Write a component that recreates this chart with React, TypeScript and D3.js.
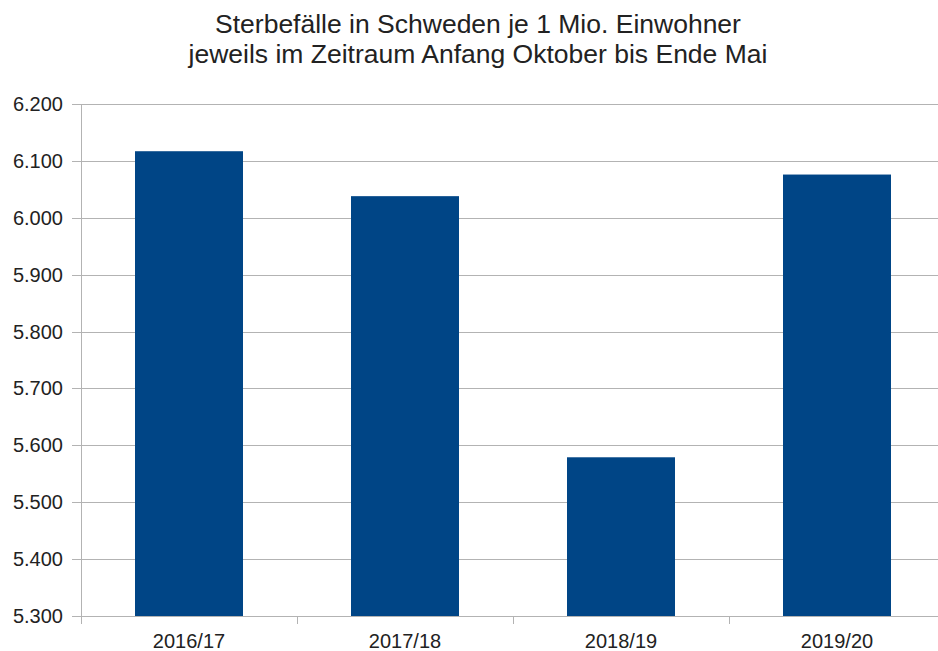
import React from "react";
import * as d3 from "d3";

const categories = ["2016/17", "2017/18", "2018/19", "2019/20"];
const values = [6117, 6038, 5579, 6076];
const yTicks = [5300, 5400, 5500, 5600, 5700, 5800, 5900, 6000, 6100, 6200];
const titleLines = [
  "Sterbefälle in Schweden je 1 Mio. Einwohner",
  "jeweils im Zeitraum Anfang Oktober bis Ende Mai",
];

const W = 938;
const H = 651;
const left = 81;
const right = 945;
const top = 104;
const bottom = 616;

const fmt = d3
  .formatLocale({ decimal: ",", thousands: ".", grouping: [3], currency: ["", "€"] })
  .format(",d");

export default function App() {
  const x = d3.scaleBand<string>().domain(categories).range([left, right]).paddingInner(0.5).paddingOuter(0.25);
  const y = d3.scaleLinear().domain([5300, 6200]).range([bottom, top]);
  const step = x.step();
  const boundaries = categories.map((c) => (x(c) as number) - step * 0.25);
  const font = "'Liberation Sans', Arial, sans-serif";
  const grid = "#b3b3b3";
  const text = "#222";

  return (
    <svg
      width={W}
      height={H}
      style={{ position: "absolute", left: 0, top: 0, background: "#fff" }}
      fontFamily={font}
    >
      <rect x={0} y={0} width={W} height={H} fill="#fff" />
      {titleLines.map((t, i) => (
        <text key={i} x={478} y={33 + i * 30} textAnchor="middle" fontSize={26.5} fill={text}>
          {t}
        </text>
      ))}
      {yTicks.map((v) => (
        <g key={v}>
          <line x1={72} x2={right} y1={Math.round(y(v)) + 0.5} y2={Math.round(y(v)) + 0.5} stroke={grid} strokeWidth={1} />
          <text x={63} y={y(v)} dy="0.35em" textAnchor="end" fontSize={20} fill={text}>
            {fmt(v)}
          </text>
        </g>
      ))}
      <line x1={left + 0.5} x2={left + 0.5} y1={top} y2={bottom + 8} stroke={grid} strokeWidth={1} />
      {boundaries.slice(1).map((b, i) => (
        <line key={i} x1={Math.round(b) + 0.5} x2={Math.round(b) + 0.5} y1={bottom} y2={bottom + 8} stroke={grid} strokeWidth={1} />
      ))}
      {categories.map((c, i) => (
        <rect
          key={c}
          x={x(c) as number}
          y={y(values[i])}
          width={x.bandwidth()}
          height={y(5300) - y(values[i])}
          fill="#004586"
        />
      ))}
      {categories.map((c) => (
        <text
          key={c}
          x={(x(c) as number) + x.bandwidth() / 2}
          y={648}
          textAnchor="middle"
          fontSize={20}
          fill={text}
        >
          {c}
        </text>
      ))}
    </svg>
  );
}
